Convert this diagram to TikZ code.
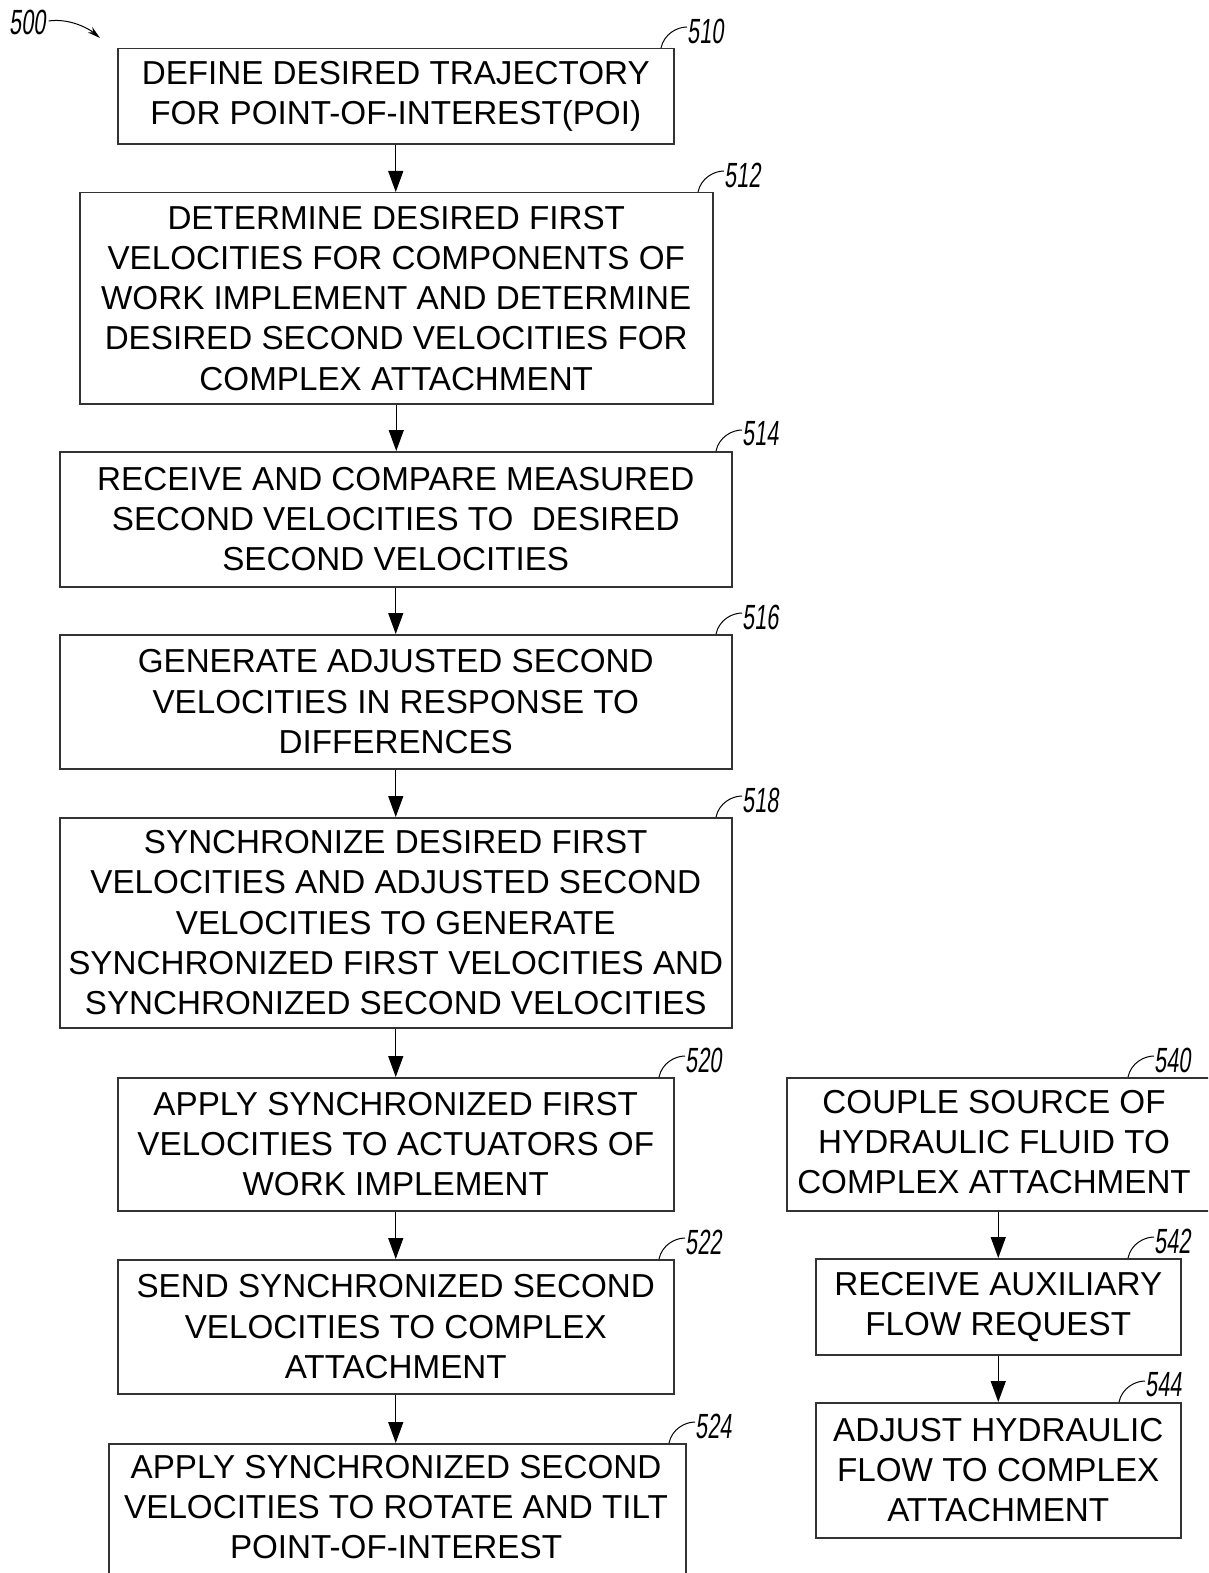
\documentclass[tikz,border=0pt]{standalone}
\usepackage{fontspec}
\setmainfont{Liberation Sans}
\newfontfamily\numfont[FakeStretch=0.62,FakeSlant=0.12]{Liberation Sans}
\usetikzlibrary{arrows.meta}
\tikzset{
  box/.style={draw=black!80, line width=1.5pt, anchor=north west, inner sep=0pt, align=center,
    font=\fontsize{33.2}{40.3}\selectfont},
  txt/.style={inner sep=0pt, align=center, font=\fontsize{33.2}{40.3}\selectfont},
  arr/.style={line width=1.3pt, -{Triangle[length=21pt,width=15pt]}},
  reflab/.style={anchor=west, inner sep=0pt, font=\numfont\fontsize{35}{35}\selectfont},
  leader/.style={line width=1pt},
}
\begin{document}
\begin{tikzpicture}[x=1pt,y=-1pt]
\useasboundingbox (0,0) rectangle (1208,1573);
\clip (0,0) rectangle (1208,1573);
\fill[white] (0,0) rectangle (1208,1573);

% left column
\node[box, minimum width=556pt, minimum height=95.5pt] (b510) at (117,48)
  {DEFINE DESIRED TRAJECTORY\\FOR POINT-OF-INTEREST(POI)};
\node[box, minimum width=633pt, minimum height=211pt] (b512) at (79,192)
  {DETERMINE DESIRED FIRST\\VELOCITIES FOR COMPONENTS OF\\WORK IMPLEMENT AND DETERMINE\\DESIRED SECOND VELOCITIES FOR\\COMPLEX ATTACHMENT};
\node[box, minimum width=672pt, minimum height=135pt] (b514) at (59,451)
  {RECEIVE AND COMPARE MEASURED\\SECOND VELOCITIES TO\ \ DESIRED\\SECOND VELOCITIES};
\node[box, minimum width=672pt, minimum height=134pt] (b516) at (59,634)
  {GENERATE ADJUSTED SECOND\\VELOCITIES IN RESPONSE TO\\DIFFERENCES};
\node[box, minimum width=672pt, minimum height=210pt] (b518) at (59,817)
  {SYNCHRONIZE DESIRED FIRST\\VELOCITIES AND ADJUSTED SECOND\\VELOCITIES TO GENERATE\\SYNCHRONIZED FIRST VELOCITIES AND\\SYNCHRONIZED SECOND VELOCITIES};
\node[box, minimum width=556pt, minimum height=133pt] (b520) at (117,1077)
  {APPLY SYNCHRONIZED FIRST\\VELOCITIES TO ACTUATORS OF\\WORK IMPLEMENT};
\node[box, minimum width=556pt, minimum height=134pt] (b522) at (117,1259)
  {SEND SYNCHRONIZED SECOND\\VELOCITIES TO COMPLEX\\ATTACHMENT};
\node[box, minimum width=577pt, minimum height=220pt] (b524) at (108,1443) {};
\node[txt] (t524) at (396,1507)
  {APPLY SYNCHRONIZED SECOND\\VELOCITIES TO ROTATE AND TILT\\POINT-OF-INTEREST};

% right column
\node[box, minimum width=460pt, minimum height=133pt] (b540) at (786,1077) {};
\node[txt] (t540) at (994,1142)
  {COUPLE SOURCE OF\\HYDRAULIC FLUID TO\\COMPLEX ATTACHMENT};
\node[box, minimum width=365pt, minimum height=96pt] (b542) at (815,1258)
  {RECEIVE AUXILIARY\\FLOW REQUEST};
\node[box, minimum width=365pt, minimum height=135pt] (b544) at (815,1402)
  {ADJUST HYDRAULIC\\FLOW TO COMPLEX\\ATTACHMENT};

% connectors
\draw[arr] (b510.south) -- (b510.south |- b512.north);
\draw[arr] (b512.south) -- (b512.south |- b514.north);
\draw[arr] (b514.south) -- (b514.south |- b516.north);
\draw[arr] (b516.south) -- (b516.south |- b518.north);
\draw[arr] (b518.south) -- (b518.south |- b520.north);
\draw[arr] (b520.south) -- (b520.south |- b522.north);
\draw[arr] (b522.south) -- (b522.south |- b524.north);
\draw[arr] (b542.north |- b540.south) -- (b542.north);
\draw[arr] (b542.south) -- (b544.north);

% reference labels
\node[reflab] (l500) at (9,22) {500};
\coordinate (a500) at (100,38);
\draw[line width=1pt, -{Stealth[length=13pt,width=7pt]}] (l500.east) ++(3,-1) .. controls +(20,-3) and +(-12,-10) .. (a500);

\foreach \n/\lx/\top in {510/687/48, 512/724/192, 514/742/451, 516/742/634, 518/742/817,
  520/685/1077, 522/685/1259, 524/695/1443, 540/1154/1077, 542/1154/1258, 544/1145/1402}{
  \node[reflab] (l\n) at (\lx,\top-17) {\n};
  \coordinate (s\n) at (\lx-26,\top);
  \draw[leader] (s\n) .. controls +(3,-14) and +(-10,0) .. (l\n.west |- 0,\top-21);
}
\end{tikzpicture}
\end{document}
